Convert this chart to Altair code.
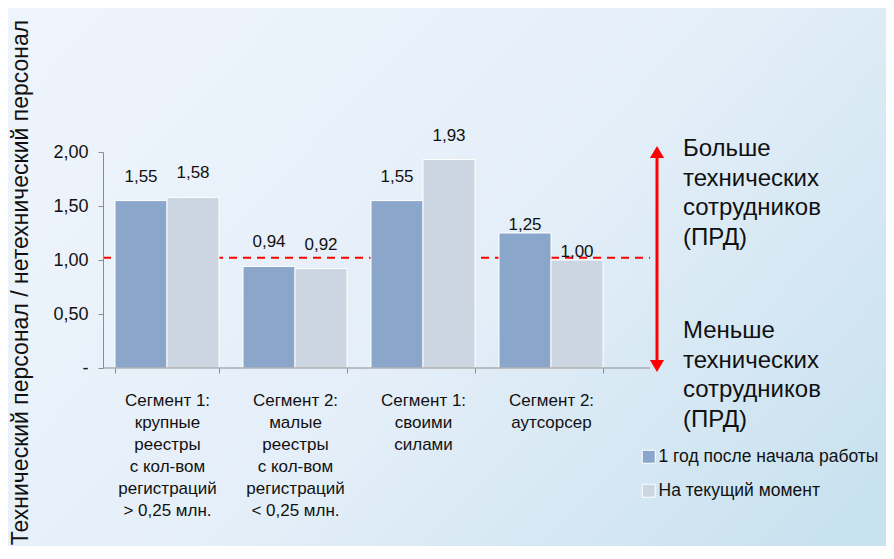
import altair as alt
import pandas as pd

# ---- data ----
categories = [
    "Сегмент 1:|крупные|реестры|с кол-вом|регистраций|> 0,25 млн.",
    "Сегмент 2:|малые|реестры|с кол-вом|регистраций|< 0,25 млн.",
    "Сегмент 1:|своими|силами",
    "Сегмент 2:|аутсорсер",
]
series = ["1 год после начала работы", "На текущий момент"]
values_first_year = [1.55, 0.94, 1.55, 1.25]
values_current = [1.58, 0.92, 1.93, 1.00]
y_ticks = [0, 0.5, 1.0, 1.5, 2.0]
threshold = 1.02
y_title = "Технический персонал / нетехнический персонал"
note_more = ["Больше", "технических", "сотрудников", "(ПРД)"]
note_less = ["Меньше", "технических", "сотрудников", "(ПРД)"]
colors = ["#8aa6cb", "#cbd6e2"]

rows = []
for i, c in enumerate(categories):
    rows.append({"cat": c, "idx": i, "series": series[0], "value": values_first_year[i]})
    rows.append({"cat": c, "idx": i, "series": series[1], "value": values_current[i]})
df = pd.DataFrame(rows)

FONT = "Liberation Sans"
W, H = 512, 216

x_enc = alt.X(
    "cat:N",
    sort=categories,
    scale=alt.Scale(paddingInner=0.1875, paddingOuter=0.09375),
    axis=alt.Axis(
        title=None,
        labelExpr="split(datum.label, '|')",
        labelAngle=0,
        labelFontSize=17,
        labelLineHeight=22,
        labelBaseline="top",
        labelPadding=19,
        labelColor="#111111",
        labelFont=FONT,
        tickBand="extent",
        tickSize=5,
        tickColor="#8c8c8c",
        domain=False,
        zindex=1,
    ),
)
xoff = alt.XOffset("series:N", sort=series, scale=alt.Scale(paddingInner=0, paddingOuter=0))
y_enc = alt.Y(
    "value:Q",
    scale=alt.Scale(domain=[0, 2], nice=False, zero=True),
    axis=alt.Axis(
        values=y_ticks,
        labelExpr="datum.value == 0 ? '-' : replace(format(datum.value, '.2f'), '.', ',')",
        labelFontSize=18,
        labelFont=FONT,
        labelColor="#111111",
        labelPadding=10,
        tickSize=5,
        tickColor="#8c8c8c",
        domainColor="#8c8c8c",
        grid=False,
        title=y_title,
        titleFont=FONT,
        titleFontSize=23,
        titleFontWeight="normal",
        titleColor="#111111",
        titleAngle=-90,
        titleX=-83,
        titleY=130,
        titleAlign="center",
        titleBaseline="middle",
        zindex=1,
    ),
)

base = alt.Chart(df)

background = alt.Chart(alt.Data(values=[{}])).mark_rect(
    color=alt.LinearGradient(
        gradient="linear",
        x1=0, y1=0.2, x2=1, y2=0.8,
        stops=[
            alt.GradientStop(color="#eef4fb", offset=0),
            alt.GradientStop(color="#e5eff9", offset=0.5),
            alt.GradientStop(color="#c9e2ef", offset=1),
        ],
    )
).encode(
    x=alt.value(-110), x2=alt.value(W + 290),
    y=alt.value(-160), y2=alt.value(H + 200),
)

thr = alt.Chart(alt.Data(values=[{"t": threshold}])).mark_rule(
    color="#ff0000", strokeDash=[8, 6], strokeWidth=2
).encode(x=alt.value(0), x2=alt.value(547), y=alt.Y("t:Q"))

bars = base.mark_bar(stroke="white", strokeWidth=1).encode(
    x=x_enc,
    xOffset=xoff,
    y=y_enc,
    color=alt.Color(
        "series:N",
        sort=series,
        scale=alt.Scale(domain=series, range=colors),
        legend=alt.Legend(
            title=None,
            orient="none",
            legendX=537,
            legendY=296,
            symbolType="square",
            symbolSize=169,
            symbolStrokeColor="white",
            symbolStrokeWidth=1,
            symbolOpacity=1,
            labelFontSize=17.5,
            labelFont=FONT,
            labelColor="#111111",
            labelOffset=1,
            rowPadding=15,
            labelLimit=300,
        ),
    ),
)

lab_common = dict(fontSize=17, font=FONT, color="#111111", baseline="middle", align="center")
labels_main = base.transform_filter("datum.idx < 3").transform_calculate(
    lab="replace(format(datum.value, '.2f'), '.', ',')"
).mark_text(dy=-24, **lab_common).encode(
    x=alt.X("cat:N", sort=categories), xOffset=alt.XOffset("series:N", sort=series), y="value:Q", text="lab:N"
)
labels_last = base.transform_filter("datum.idx == 3").transform_calculate(
    lab="replace(format(datum.value, '.2f'), '.', ',')"
).mark_text(dy=-8, **lab_common).encode(
    x=alt.X("cat:N", sort=categories), xOffset=alt.XOffset("series:N", sort=series), y="value:Q", text="lab:N"
)

xaxis_line = alt.Chart(alt.Data(values=[{}])).mark_rule(color="#8c8c8c", strokeWidth=1).encode(
    x=alt.value(0), x2=alt.value(547), y=alt.value(H)
)

arrow_line = alt.Chart(alt.Data(values=[{}])).mark_rule(color="#ff0000", strokeWidth=3).encode(
    x=alt.value(554), y=alt.value(2), y2=alt.value(212)
)
arrow_up = alt.Chart(alt.Data(values=[{}])).mark_point(
    shape="triangle-up", filled=True, color="#ff0000", size=200, opacity=1
).encode(x=alt.value(554), y=alt.value(0))
arrow_down = alt.Chart(alt.Data(values=[{}])).mark_point(
    shape="triangle-down", filled=True, color="#ff0000", size=200, opacity=1
).encode(x=alt.value(554), y=alt.value(214))

note_style = dict(font=FONT, fontSize=24, lineHeight=29.5, align="left", baseline="middle",
                  color="#111111", lineBreak="\n")
note1 = alt.Chart(alt.Data(values=[{}])).mark_text(**note_style).encode(
    x=alt.value(580), y=alt.value(-3), text=alt.value("\n".join(note_more))
)
note2 = alt.Chart(alt.Data(values=[{}])).mark_text(**note_style).encode(
    x=alt.value(580), y=alt.value(179), text=alt.value("\n".join(note_less))
)

chart = alt.layer(
    background, thr, bars, labels_main, labels_last, xaxis_line,
    arrow_line, arrow_up, arrow_down, note1, note2,
).properties(
    width=W, height=H,
    autosize=alt.AutoSizeParams(type="none"),
    padding={"left": 95, "top": 144, "right": 271, "bottom": 178},
).configure_view(strokeWidth=0).configure(background="#eef4fb")

chart.save("out.html", embed_options={"renderer": "svg", "actions": False})
